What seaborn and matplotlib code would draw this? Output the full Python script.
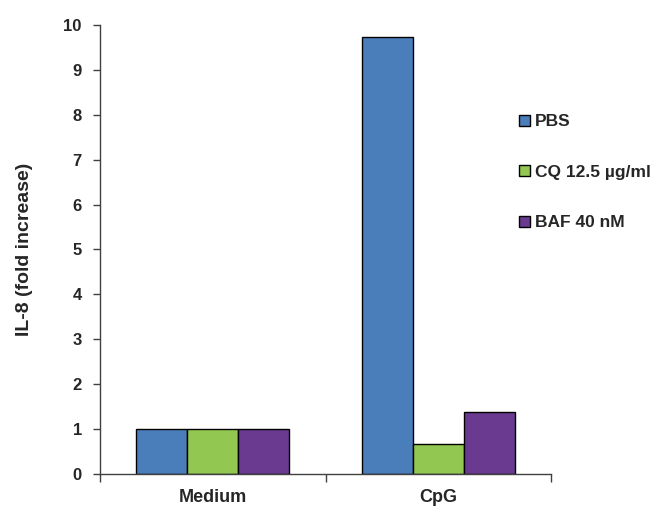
import pandas as pd
import matplotlib
matplotlib.use("Agg")
import matplotlib.pyplot as plt
import seaborn as sns

# Values
categories = ["Medium", "CpG"]
treatments = ["PBS", "CQ 12.5 µg/ml", "BAF 40 nM"]
pbs = [1.0, 9.73]
cq = [1.0, 0.67]
baf = [1.0, 1.37]
colors = ["#4A7EBB", "#92C851", "#6A3A91"]

df = pd.DataFrame({
    "Stim": categories * 3,
    "Treatment": [t for t in treatments for _ in categories],
    "IL8": pbs + cq + baf,
})

sns.set_theme(style="white")
plt.rcParams['font.family'] = ['Liberation Sans', 'DejaVu Sans']

fig = plt.figure(figsize=(6.61, 5.08), dpi=100)
ax = fig.add_axes([0.151, 0.067, 0.683, 0.884])

sns.barplot(data=df, x="Stim", y="IL8", hue="Treatment", palette=colors,
            width=0.68, edgecolor="black", linewidth=1.0, ax=ax, saturation=1)

ax.set_ylim(0, 10)
ax.set_xlim(-0.5, 1.5)
ax.set_yticks(range(0, 11))
ax.set_xlabel("")
ax.set_ylabel("IL-8 (fold increase)", fontsize=14, fontweight="bold", labelpad=22)

for lab in ax.get_yticklabels():
    lab.set_fontweight("bold")
    lab.set_fontsize(12)
for lab in ax.get_xticklabels():
    lab.set_fontweight("bold")
    lab.set_fontsize(13)

ax.tick_params(axis="y", direction="out", length=5, width=1, color="#404040", left=True, pad=8)
ax.tick_params(axis="x", which="major", length=0, pad=11)
ax.set_xticks([-0.5, 0.5, 1.5], minor=True)
ax.tick_params(axis="x", which="minor", direction="out", length=6, width=1, color="#404040", bottom=True)

sns.despine(ax=ax)
for side in ["left", "bottom"]:
    ax.spines[side].set_color("#404040")
    ax.spines[side].set_linewidth(1)

handles, labels = ax.get_legend_handles_labels()
ax.legend(handles, labels, loc="upper left", bbox_to_anchor=(0.762, 0.806),
          bbox_transform=fig.transFigure, frameon=False,
          prop={"weight": "bold", "size": 12.5}, handlelength=0.6, handleheight=0.6,
          handletextpad=0.3, labelspacing=2.05)

fig.savefig("out.png", dpi=100)
